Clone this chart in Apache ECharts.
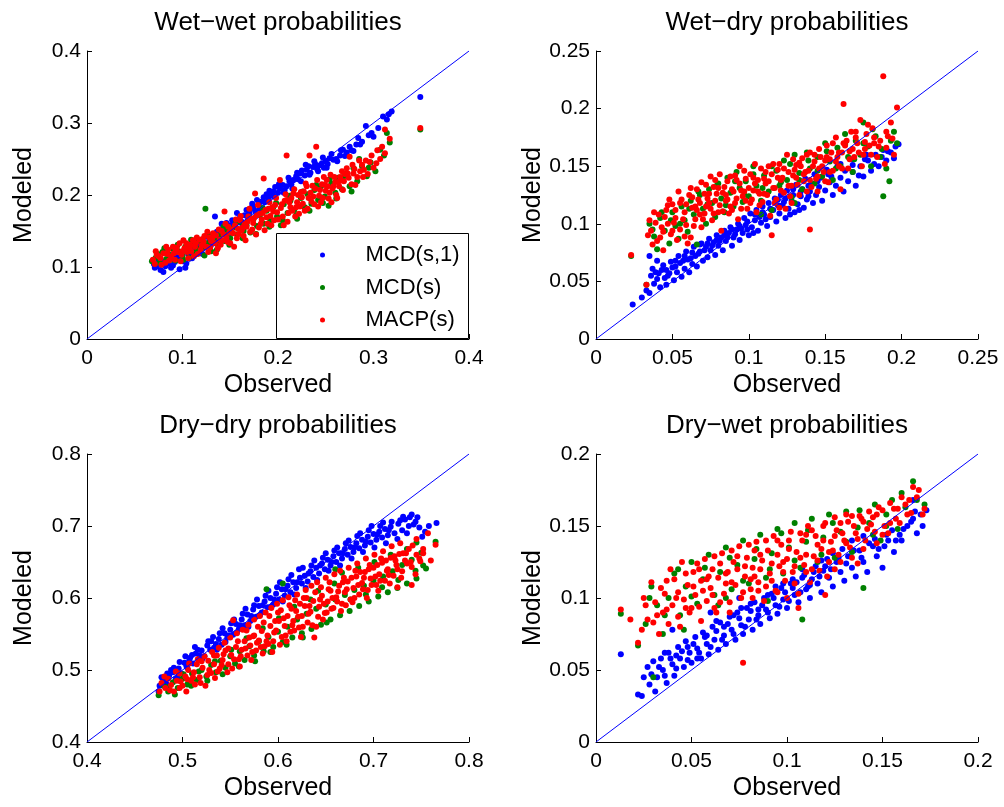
<!DOCTYPE html>
<html><head><meta charset="utf-8">
<script src="https://cdn.jsdelivr.net/npm/echarts/dist/echarts.min.js"></script>
<style>html,body{margin:0;padding:0;background:#fff}#c{width:1004px;height:807px}</style>
</head><body><div id="c"></div><script>
const seriesNames = ['MCD(s,1)', 'MCD(s)', 'MACP(s)'];
const panelTitles = ['Wet\u2212wet probabilities', 'Wet\u2212dry probabilities', 'Dry\u2212dry probabilities', 'Dry\u2212wet probabilities'];
const axisRanges = [[0, 0.4, 0.1], [0, 0.25, 0.05], [0.4, 0.8, 0.1], [0, 0.2, 0.05]];

const wwBlue = [[0.070,0.104],[0.071,0.099],[0.075,0.108],[0.077,0.096],[0.080,0.093],[0.082,0.101],[0.085,0.105],[0.087,0.110],[0.090,0.102],[0.094,0.114],[0.097,0.097],[0.100,0.108],[0.104,0.105],[0.106,0.118],[0.108,0.119],[0.110,0.112],[0.113,0.124],[0.115,0.133],[0.118,0.121],[0.120,0.130],[0.123,0.127],[0.125,0.142],[0.128,0.135],[0.130,0.131],[0.132,0.139],[0.134,0.170],[0.136,0.149],[0.138,0.143],[0.140,0.152],[0.142,0.146],[0.144,0.156],[0.146,0.161],[0.148,0.152],[0.150,0.158],[0.152,0.165],[0.155,0.160],[0.157,0.175],[0.160,0.168],[0.162,0.163],[0.165,0.172],[0.167,0.179],[0.170,0.175],[0.172,0.182],[0.174,0.184],[0.176,0.178],[0.178,0.193],[0.180,0.186],[0.183,0.191],[0.185,0.197],[0.188,0.201],[0.190,0.194],[0.192,0.199],[0.195,0.205],[0.197,0.211],[0.200,0.203],[0.202,0.209],[0.205,0.214],[0.207,0.207],[0.209,0.212],[0.212,0.219],[0.214,0.215],[0.216,0.221],[0.219,0.226],[0.221,0.222],[0.223,0.230],[0.225,0.234],[0.228,0.227],[0.230,0.235],[0.232,0.240],[0.234,0.231],[0.237,0.239],[0.239,0.243],[0.241,0.236],[0.243,0.241],[0.246,0.244],[0.248,0.238],[0.250,0.247],[0.252,0.243],[0.254,0.251],[0.258,0.249],[0.262,0.247],[0.265,0.255],[0.268,0.263],[0.272,0.259],[0.275,0.267],[0.279,0.261],[0.282,0.270],[0.284,0.279],[0.288,0.274],[0.292,0.296],[0.295,0.283],[0.298,0.286],[0.305,0.293],[0.310,0.309],[0.314,0.305],[0.316,0.312],[0.319,0.316],[0.349,0.336],
[0.073,0.101],[0.079,0.108],[0.088,0.099],[0.092,0.107],[0.099,0.111],[0.103,0.099],[0.111,0.118],[0.117,0.127],[0.121,0.118],[0.127,0.131],[0.133,0.145],[0.137,0.137],[0.141,0.160],[0.145,0.149],[0.149,0.145],[0.153,0.156],[0.158,0.164],[0.163,0.158],[0.168,0.170],[0.173,0.188],[0.177,0.171],[0.181,0.181],[0.186,0.190],[0.191,0.206],[0.196,0.198],[0.201,0.215],[0.206,0.203],[0.211,0.224],[0.215,0.209],[0.220,0.231],[0.224,0.219],[0.229,0.242],[0.233,0.228],[0.238,0.247],[0.242,0.233],[0.247,0.252],[0.251,0.238],[0.256,0.257],[0.261,0.250],[0.266,0.262],[0.270,0.254],[0.277,0.262],[0.286,0.270],[0.300,0.281]];
const wwGreen = [[0.068,0.108],[0.072,0.113],[0.076,0.106],[0.079,0.121],[0.083,0.111],[0.086,0.117],[0.090,0.125],[0.093,0.109],[0.096,0.122],[0.100,0.116],[0.103,0.128],[0.107,0.113],[0.110,0.130],[0.114,0.121],[0.117,0.136],[0.120,0.126],[0.124,0.181],[0.126,0.133],[0.130,0.122],[0.133,0.140],[0.137,0.131],[0.140,0.145],[0.144,0.136],[0.147,0.151],[0.150,0.140],[0.154,0.155],[0.157,0.145],[0.160,0.162],[0.164,0.150],[0.167,0.158],[0.171,0.148],[0.174,0.166],[0.178,0.157],[0.181,0.172],[0.185,0.160],[0.188,0.178],[0.192,0.165],[0.195,0.183],[0.199,0.170],[0.203,0.158],[0.206,0.187],[0.210,0.175],[0.213,0.192],[0.217,0.179],[0.220,0.167],[0.224,0.196],[0.228,0.183],[0.231,0.201],[0.235,0.188],[0.238,0.207],[0.242,0.193],[0.245,0.212],[0.249,0.198],[0.253,0.185],[0.256,0.216],[0.260,0.203],[0.263,0.224],[0.267,0.208],[0.271,0.230],[0.275,0.212],[0.279,0.237],[0.283,0.219],[0.288,0.240],[0.293,0.226],[0.297,0.245],[0.302,0.233],[0.307,0.263],[0.311,0.255],[0.314,0.286],[0.317,0.273],[0.349,0.291],
[0.074,0.118],[0.081,0.126],[0.088,0.110],[0.095,0.131],[0.101,0.110],[0.109,0.138],[0.116,0.125],[0.123,0.116],[0.129,0.144],[0.136,0.124],[0.143,0.156],[0.149,0.131],[0.156,0.164],[0.163,0.140],[0.170,0.169],[0.177,0.146],[0.184,0.182],[0.191,0.156],[0.198,0.189],[0.205,0.165],[0.212,0.199],[0.219,0.172],[0.226,0.205],[0.233,0.178],[0.240,0.214],[0.247,0.189],[0.254,0.222],[0.261,0.195],[0.269,0.226],[0.277,0.205],[0.285,0.250],[0.295,0.238]];
const wwRed = [[0.069,0.110],[0.071,0.104],[0.073,0.117],[0.077,0.112],[0.080,0.119],[0.082,0.106],[0.085,0.124],[0.088,0.115],[0.090,0.128],[0.092,0.110],[0.095,0.121],[0.097,0.133],[0.099,0.117],[0.102,0.126],[0.104,0.133],[0.106,0.112],[0.109,0.122],[0.111,0.137],[0.113,0.128],[0.116,0.118],[0.118,0.138],[0.120,0.130],[0.123,0.143],[0.125,0.128],[0.127,0.121],[0.130,0.136],[0.132,0.147],[0.134,0.133],[0.137,0.126],[0.139,0.138],[0.141,0.150],[0.144,0.177],[0.146,0.141],[0.148,0.156],[0.150,0.133],[0.153,0.147],[0.155,0.158],[0.157,0.140],[0.160,0.165],[0.162,0.151],[0.164,0.143],[0.167,0.156],[0.169,0.170],[0.171,0.149],[0.174,0.161],[0.176,0.202],[0.178,0.172],[0.180,0.155],[0.183,0.166],[0.185,0.223],[0.187,0.179],[0.189,0.160],[0.192,0.171],[0.194,0.183],[0.196,0.165],[0.199,0.176],[0.202,0.221],[0.204,0.187],[0.206,0.158],[0.209,0.193],[0.209,0.255],[0.211,0.175],[0.213,0.183],[0.216,0.202],[0.218,0.170],[0.220,0.190],[0.223,0.184],[0.225,0.197],[0.228,0.178],[0.230,0.212],[0.233,0.255],[0.235,0.191],[0.237,0.198],[0.240,0.267],[0.242,0.184],[0.244,0.207],[0.247,0.196],[0.249,0.214],[0.251,0.221],[0.254,0.203],[0.256,0.190],[0.258,0.212],[0.261,0.200],[0.263,0.218],[0.265,0.225],[0.268,0.207],[0.270,0.229],[0.272,0.237],[0.275,0.253],[0.277,0.215],[0.279,0.230],[0.283,0.225],[0.286,0.233],[0.289,0.225],[0.292,0.248],[0.296,0.246],[0.300,0.238],[0.304,0.262],[0.309,0.267],[0.312,0.258],[0.312,0.291],[0.317,0.278],[0.349,0.293],
[0.072,0.122],[0.078,0.103],[0.083,0.128],[0.086,0.109],[0.091,0.119],[0.094,0.127],[0.098,0.108],[0.101,0.137],[0.105,0.121],[0.108,0.131],[0.112,0.115],[0.115,0.141],[0.119,0.124],[0.122,0.135],[0.126,0.149],[0.129,0.127],[0.131,0.140],[0.135,0.119],[0.138,0.152],[0.140,0.131],[0.143,0.145],[0.145,0.160],[0.147,0.135],[0.151,0.152],[0.154,0.128],[0.156,0.166],[0.159,0.146],[0.161,0.171],[0.163,0.155],[0.166,0.137],[0.168,0.163],[0.170,0.181],[0.173,0.152],[0.175,0.168],[0.177,0.145],[0.179,0.186],[0.182,0.160],[0.184,0.175],[0.186,0.151],[0.188,0.169],[0.191,0.190],[0.193,0.158],[0.195,0.177],[0.198,0.196],[0.200,0.166],[0.203,0.182],[0.205,0.170],[0.208,0.201],[0.210,0.163],[0.212,0.190],[0.215,0.178],[0.217,0.208],[0.219,0.183],[0.222,0.174],[0.224,0.204],[0.226,0.188],[0.229,0.216],[0.231,0.181],[0.234,0.203],[0.236,0.213],[0.238,0.187],[0.241,0.221],[0.243,0.199],[0.245,0.190],[0.248,0.225],[0.250,0.206],[0.253,0.195],[0.255,0.228],[0.257,0.209],[0.260,0.218],[0.262,0.196],[0.264,0.212],[0.267,0.233],[0.269,0.219],[0.274,0.224],[0.278,0.242],[0.281,0.214],[0.285,0.248],[0.290,0.235],[0.294,0.229],[0.298,0.255],[0.303,0.244],[0.307,0.250],
[0.075,0.115],[0.084,0.118],[0.093,0.124],[0.100,0.122],[0.107,0.127],[0.114,0.133],[0.121,0.139],[0.128,0.141],[0.135,0.144],[0.142,0.137],[0.149,0.148],[0.158,0.153],[0.165,0.160],[0.172,0.167],[0.181,0.174],[0.190,0.181],[0.197,0.186],[0.207,0.192],[0.214,0.196],[0.221,0.200],[0.227,0.205],[0.232,0.196],[0.239,0.209],[0.246,0.215],[0.252,0.212],[0.259,0.225],[0.266,0.220],[0.273,0.230],[0.280,0.236],[0.288,0.242]];

const wdBlue = [[0.024,0.030],[0.030,0.036],[0.033,0.042],[0.035,0.040],[0.035,0.072],[0.036,0.055],[0.038,0.048],[0.040,0.052],[0.040,0.068],[0.042,0.045],[0.043,0.060],[0.045,0.053],[0.046,0.047],[0.048,0.057],[0.050,0.062],[0.051,0.051],[0.053,0.058],[0.055,0.066],[0.056,0.054],[0.058,0.061],[0.060,0.069],[0.061,0.058],[0.063,0.065],[0.065,0.072],[0.066,0.063],[0.068,0.076],[0.070,0.068],[0.072,0.080],[0.073,0.071],[0.075,0.077],[0.077,0.084],[0.078,0.073],[0.080,0.081],[0.082,0.088],[0.083,0.077],[0.085,0.085],[0.087,0.092],[0.089,0.081],[0.090,0.088],[0.092,0.095],[0.094,0.086],[0.096,0.092],[0.098,0.099],[0.100,0.090],[0.102,0.097],[0.104,0.103],[0.106,0.094],[0.108,0.101],[0.110,0.108],[0.112,0.098],[0.114,0.106],[0.116,0.112],[0.118,0.102],[0.120,0.109],[0.122,0.116],[0.124,0.105],[0.126,0.113],[0.128,0.120],[0.130,0.110],[0.132,0.117],[0.134,0.124],[0.136,0.114],[0.138,0.121],[0.140,0.128],[0.142,0.118],[0.144,0.125],[0.146,0.132],[0.148,0.120],[0.150,0.129],[0.153,0.136],[0.155,0.125],[0.157,0.133],[0.160,0.140],[0.162,0.128],[0.165,0.137],[0.168,0.145],[0.170,0.133],[0.173,0.150],[0.175,0.141],[0.178,0.155],[0.180,0.146],[0.183,0.160],[0.185,0.150],[0.188,0.164],[0.190,0.155],[0.193,0.162],[0.196,0.167],[0.198,0.169],
[0.037,0.061],[0.041,0.057],[0.044,0.064],[0.047,0.055],[0.049,0.067],[0.052,0.063],[0.054,0.072],[0.057,0.068],[0.059,0.076],[0.062,0.070],[0.064,0.080],[0.067,0.074],[0.069,0.083],[0.071,0.077],[0.074,0.087],[0.076,0.081],[0.079,0.090],[0.081,0.085],[0.084,0.094],[0.086,0.088],[0.088,0.097],[0.091,0.091],[0.093,0.100],[0.095,0.096],[0.097,0.105],[0.099,0.102],[0.101,0.109],[0.103,0.092],[0.105,0.112],[0.107,0.106],[0.109,0.115],[0.111,0.104],[0.113,0.118],[0.115,0.112],[0.117,0.122],[0.119,0.116],[0.121,0.125],[0.123,0.119],[0.125,0.129],[0.127,0.108],[0.129,0.125],[0.131,0.134],[0.133,0.112],[0.135,0.130],[0.137,0.139],[0.139,0.124],[0.141,0.135],[0.143,0.143],[0.147,0.140],[0.151,0.147],[0.154,0.141],[0.158,0.150],[0.163,0.146],[0.167,0.156],[0.172,0.142],[0.177,0.160],[0.182,0.152],[0.187,0.158],[0.191,0.163],[0.195,0.157],
[0.039,0.058],[0.046,0.060],[0.052,0.068],[0.058,0.072],[0.063,0.075],[0.068,0.082],[0.073,0.083],[0.079,0.086],[0.084,0.090],[0.089,0.095],[0.094,0.098],[0.099,0.095],[0.104,0.108],[0.109,0.110],[0.114,0.113],[0.119,0.121],[0.124,0.122],[0.129,0.130],[0.134,0.128],[0.139,0.133],[0.145,0.137],[0.152,0.143],[0.160,0.152],[0.168,0.151],[0.176,0.156]];
const wdGreen = [[0.023,0.072],[0.033,0.047],[0.035,0.100],[0.038,0.089],[0.040,0.078],[0.042,0.105],[0.045,0.094],[0.048,0.083],[0.050,0.110],[0.052,0.098],[0.054,0.087],[0.056,0.115],[0.058,0.103],[0.060,0.093],[0.062,0.120],[0.064,0.108],[0.066,0.082],[0.068,0.125],[0.070,0.113],[0.072,0.100],[0.074,0.130],[0.076,0.118],[0.078,0.106],[0.080,0.135],[0.082,0.122],[0.084,0.110],[0.086,0.140],[0.088,0.127],[0.090,0.115],[0.092,0.145],[0.094,0.131],[0.096,0.119],[0.098,0.137],[0.100,0.124],[0.103,0.150],[0.105,0.133],[0.108,0.120],[0.110,0.142],[0.113,0.128],[0.115,0.112],[0.118,0.146],[0.120,0.133],[0.123,0.155],[0.125,0.138],[0.128,0.123],[0.130,0.160],[0.133,0.144],[0.135,0.130],[0.138,0.162],[0.140,0.148],[0.143,0.135],[0.145,0.158],[0.148,0.141],[0.150,0.170],[0.153,0.154],[0.155,0.138],[0.158,0.166],[0.160,0.150],[0.163,0.178],[0.165,0.158],[0.168,0.145],[0.170,0.172],[0.173,0.160],[0.175,0.188],[0.178,0.167],[0.180,0.150],[0.183,0.176],[0.186,0.158],[0.188,0.124],[0.190,0.148],[0.192,0.137],[0.195,0.180],[0.197,0.170],
[0.037,0.095],[0.043,0.110],[0.049,0.103],[0.055,0.100],[0.061,0.113],[0.067,0.128],[0.073,0.117],[0.079,0.133],[0.085,0.116],[0.091,0.137],[0.097,0.125],[0.103,0.143],[0.109,0.131],[0.115,0.150],[0.121,0.136],[0.127,0.152],[0.133,0.138],[0.139,0.155],[0.145,0.146],[0.151,0.163],[0.157,0.148],[0.163,0.169],[0.169,0.156],[0.175,0.170],[0.181,0.182],[0.187,0.165],[0.193,0.172],[0.108,0.108],[0.130,0.118]];
const wdRed = [[0.023,0.073],[0.033,0.047],[0.034,0.090],[0.035,0.103],[0.037,0.082],[0.040,0.085],[0.041,0.108],[0.043,0.097],[0.044,0.077],[0.046,0.112],[0.047,0.100],[0.049,0.091],[0.050,0.117],[0.052,0.105],[0.053,0.086],[0.055,0.095],[0.056,0.121],[0.058,0.110],[0.059,0.099],[0.061,0.125],[0.062,0.088],[0.063,0.114],[0.065,0.104],[0.066,0.130],[0.068,0.118],[0.069,0.097],[0.071,0.109],[0.072,0.134],[0.073,0.122],[0.075,0.113],[0.076,0.103],[0.078,0.138],[0.079,0.126],[0.081,0.116],[0.082,0.094],[0.084,0.132],[0.085,0.120],[0.087,0.109],[0.088,0.141],[0.090,0.128],[0.091,0.118],[0.093,0.104],[0.094,0.135],[0.096,0.124],[0.097,0.146],[0.099,0.113],[0.100,0.131],[0.102,0.121],[0.103,0.140],[0.105,0.110],[0.106,0.128],[0.108,0.148],[0.109,0.119],[0.111,0.135],[0.112,0.125],[0.114,0.107],[0.115,0.090],[0.115,0.143],[0.117,0.131],[0.118,0.121],[0.120,0.152],[0.121,0.138],[0.123,0.127],[0.124,0.113],[0.126,0.145],[0.128,0.133],[0.129,0.156],[0.131,0.140],[0.133,0.125],[0.134,0.150],[0.136,0.137],[0.138,0.160],[0.139,0.146],[0.140,0.095],[0.141,0.132],[0.143,0.154],[0.145,0.141],[0.146,0.165],[0.148,0.150],[0.150,0.137],[0.151,0.158],[0.153,0.145],[0.155,0.170],[0.157,0.154],[0.159,0.162],[0.160,0.130],[0.161,0.148],[0.162,0.204],[0.164,0.172],[0.166,0.156],[0.168,0.165],[0.170,0.180],[0.172,0.162],[0.174,0.150],[0.176,0.171],[0.178,0.186],[0.180,0.160],[0.182,0.175],[0.185,0.167],[0.188,0.228],[0.189,0.152],[0.190,0.166],[0.191,0.176],[0.193,0.188],[0.195,0.160],[0.197,0.201],
[0.036,0.094],[0.039,0.101],[0.042,0.088],[0.045,0.106],[0.047,0.116],[0.050,0.094],[0.052,0.112],[0.054,0.128],[0.057,0.104],[0.059,0.117],[0.060,0.083],[0.062,0.131],[0.064,0.098],[0.066,0.112],[0.067,0.121],[0.069,0.136],[0.070,0.104],[0.072,0.115],[0.074,0.126],[0.075,0.141],[0.077,0.109],[0.078,0.120],[0.080,0.131],[0.081,0.143],[0.083,0.111],[0.085,0.125],[0.086,0.137],[0.088,0.115],[0.089,0.130],[0.091,0.142],[0.092,0.122],[0.094,0.150],[0.095,0.113],[0.097,0.128],[0.098,0.139],[0.101,0.118],[0.103,0.129],[0.104,0.152],[0.106,0.138],[0.107,0.116],[0.110,0.126],[0.111,0.145],[0.113,0.137],[0.116,0.152],[0.117,0.118],[0.119,0.140],[0.121,0.129],[0.123,0.148],[0.125,0.160],[0.127,0.124],[0.129,0.142],[0.131,0.151],[0.132,0.134],[0.135,0.157],[0.137,0.145],[0.138,0.128],[0.140,0.162],[0.142,0.150],[0.144,0.139],[0.147,0.158],[0.149,0.145],[0.151,0.168],[0.153,0.156],[0.155,0.146],[0.157,0.175],[0.159,0.150],[0.161,0.162],[0.163,0.168],[0.165,0.148],[0.167,0.180],[0.169,0.158],[0.171,0.170],[0.173,0.190],[0.175,0.160],[0.177,0.178],[0.179,0.168],[0.181,0.183],[0.184,0.158],[0.186,0.172],[0.190,0.180],[0.194,0.174],[0.120,0.114],[0.128,0.118],[0.145,0.128],[0.152,0.136],
[0.038,0.110],[0.044,0.093],[0.048,0.121],[0.051,0.101],[0.055,0.118],[0.058,0.089],[0.063,0.123],[0.065,0.115],[0.068,0.108],[0.071,0.126],[0.074,0.118],[0.077,0.132],[0.080,0.110],[0.083,0.127],[0.086,0.121],[0.089,0.112],[0.092,0.138],[0.095,0.129],[0.098,0.120],[0.101,0.143],[0.104,0.135],[0.107,0.126],[0.110,0.139],[0.113,0.150],[0.116,0.131],[0.119,0.147],[0.122,0.140],[0.126,0.133],[0.130,0.147],[0.133,0.153],[0.136,0.143],[0.140,0.138],[0.143,0.160],[0.146,0.148],[0.150,0.155],[0.154,0.162],[0.158,0.158],[0.162,0.170],[0.166,0.163],[0.170,0.175],[0.176,0.165],[0.182,0.170]];

const ddBlue = [[0.475,0.470],[0.476,0.478],[0.480,0.486],[0.483,0.481],[0.486,0.492],[0.490,0.497],[0.493,0.488],[0.496,0.502],[0.499,0.495],[0.502,0.510],[0.503,0.519],[0.505,0.503],[0.508,0.517],[0.511,0.509],[0.514,0.523],[0.517,0.514],[0.520,0.527],[0.523,0.519],[0.526,0.534],[0.529,0.528],[0.532,0.546],[0.535,0.536],[0.538,0.543],[0.541,0.535],[0.544,0.551],[0.547,0.545],[0.550,0.556],[0.553,0.549],[0.556,0.564],[0.559,0.557],[0.562,0.570],[0.565,0.562],[0.568,0.577],[0.571,0.568],[0.574,0.584],[0.577,0.574],[0.580,0.589],[0.583,0.580],[0.586,0.595],[0.589,0.587],[0.592,0.600],[0.595,0.591],[0.598,0.606],[0.601,0.598],[0.604,0.612],[0.607,0.603],[0.610,0.617],[0.613,0.608],[0.616,0.622],[0.619,0.614],[0.622,0.640],[0.625,0.620],[0.628,0.631],[0.631,0.623],[0.634,0.637],[0.637,0.629],[0.640,0.642],[0.643,0.634],[0.646,0.648],[0.649,0.640],[0.652,0.653],[0.655,0.645],[0.658,0.658],[0.661,0.650],[0.664,0.662],[0.667,0.655],[0.670,0.668],[0.673,0.660],[0.676,0.671],[0.679,0.664],[0.682,0.676],[0.685,0.669],[0.688,0.681],[0.691,0.673],[0.694,0.685],[0.697,0.677],[0.700,0.689],[0.703,0.681],[0.706,0.692],[0.709,0.684],[0.712,0.696],[0.715,0.687],[0.718,0.699],[0.722,0.690],[0.726,0.703],[0.730,0.694],[0.733,0.709],[0.737,0.700],[0.738,0.712],[0.740,0.716],[0.744,0.706],[0.748,0.698],[0.751,0.685],[0.766,0.704],
[0.478,0.490],[0.484,0.495],[0.491,0.503],[0.497,0.511],[0.504,0.506],[0.510,0.521],[0.516,0.528],[0.521,0.516],[0.527,0.540],[0.533,0.531],[0.539,0.551],[0.545,0.539],[0.551,0.565],[0.557,0.552],[0.563,0.578],[0.569,0.560],[0.575,0.590],[0.581,0.576],[0.587,0.603],[0.593,0.588],[0.599,0.615],[0.605,0.595],[0.611,0.626],[0.617,0.605],[0.623,0.628],[0.629,0.614],[0.635,0.645],[0.641,0.625],[0.647,0.656],[0.653,0.638],[0.659,0.666],[0.665,0.645],[0.671,0.676],[0.677,0.655],[0.683,0.686],[0.689,0.664],[0.695,0.694],[0.701,0.670],[0.707,0.700],[0.713,0.676],[0.719,0.706],[0.725,0.682],[0.731,0.713],[0.742,0.702],[0.754,0.692],[0.758,0.700],
[0.488,0.500],[0.495,0.490],[0.507,0.513],[0.513,0.532],[0.518,0.520],[0.530,0.540],[0.536,0.528],[0.542,0.558],[0.548,0.548],[0.554,0.570],[0.560,0.562],[0.566,0.585],[0.572,0.575],[0.578,0.598],[0.584,0.590],[0.590,0.610],[0.596,0.598],[0.602,0.622],[0.608,0.612],[0.614,0.632],[0.620,0.622],[0.626,0.642],[0.632,0.634],[0.638,0.652],[0.644,0.645],[0.650,0.662],[0.656,0.650],[0.662,0.670],[0.668,0.662],[0.674,0.680],[0.680,0.670],[0.686,0.690],[0.692,0.678],[0.698,0.700],[0.704,0.688],[0.710,0.705],[0.716,0.694],[0.728,0.708],[0.735,0.690],[0.746,0.712]];
const ddGreen = [[0.475,0.465],[0.480,0.478],[0.485,0.470],[0.490,0.483],[0.495,0.475],[0.500,0.488],[0.505,0.480],[0.510,0.495],[0.515,0.486],[0.520,0.500],[0.525,0.491],[0.530,0.507],[0.535,0.497],[0.540,0.513],[0.545,0.503],[0.550,0.519],[0.555,0.509],[0.560,0.526],[0.565,0.514],[0.570,0.533],[0.575,0.520],[0.580,0.540],[0.585,0.526],[0.588,0.612],[0.590,0.546],[0.595,0.532],[0.600,0.553],[0.605,0.539],[0.605,0.620],[0.610,0.560],[0.615,0.545],[0.620,0.570],[0.625,0.551],[0.630,0.578],[0.635,0.557],[0.640,0.585],[0.645,0.563],[0.650,0.591],[0.655,0.570],[0.660,0.598],[0.660,0.640],[0.665,0.576],[0.670,0.604],[0.675,0.582],[0.680,0.611],[0.685,0.589],[0.690,0.617],[0.695,0.595],[0.700,0.624],[0.705,0.602],[0.710,0.630],[0.715,0.608],[0.720,0.637],[0.725,0.614],[0.730,0.646],[0.735,0.620],[0.740,0.653],[0.745,0.627],[0.750,0.663],[0.755,0.641],[0.765,0.678],
[0.484,0.476],[0.492,0.466],[0.501,0.494],[0.509,0.478],[0.517,0.498],[0.526,0.485],[0.534,0.512],[0.542,0.494],[0.551,0.528],[0.559,0.505],[0.567,0.544],[0.576,0.512],[0.584,0.558],[0.592,0.525],[0.601,0.572],[0.609,0.535],[0.617,0.588],[0.626,0.545],[0.634,0.598],[0.642,0.610],[0.651,0.566],[0.659,0.620],[0.667,0.635],[0.676,0.598],[0.684,0.642],[0.692,0.605],[0.701,0.650],[0.709,0.615],[0.718,0.660],[0.726,0.625],[0.735,0.668],[0.744,0.638],[0.752,0.645],[0.745,0.677]];
const ddRed = [[0.476,0.470],[0.478,0.482],[0.482,0.475],[0.485,0.488],[0.488,0.479],[0.491,0.470],[0.494,0.485],[0.497,0.495],[0.500,0.478],[0.503,0.491],[0.506,0.500],[0.509,0.485],[0.512,0.497],[0.515,0.508],[0.518,0.490],[0.521,0.503],[0.524,0.478],[0.527,0.513],[0.530,0.496],[0.533,0.508],[0.536,0.520],[0.539,0.502],[0.542,0.514],[0.545,0.527],[0.548,0.508],[0.551,0.521],[0.553,0.569],[0.556,0.532],[0.559,0.515],[0.562,0.528],[0.565,0.540],[0.568,0.520],[0.571,0.534],[0.574,0.547],[0.575,0.548],[0.577,0.527],[0.580,0.541],[0.583,0.554],[0.586,0.533],[0.589,0.548],[0.592,0.561],[0.595,0.540],[0.598,0.555],[0.600,0.580],[0.601,0.568],[0.604,0.546],[0.607,0.561],[0.610,0.575],[0.613,0.553],[0.616,0.568],[0.619,0.582],[0.622,0.559],[0.625,0.575],[0.628,0.589],[0.630,0.600],[0.631,0.566],[0.634,0.581],[0.637,0.596],[0.640,0.560],[0.643,0.588],[0.646,0.603],[0.649,0.579],[0.652,0.595],[0.655,0.610],[0.658,0.586],[0.661,0.601],[0.664,0.617],[0.667,0.592],[0.670,0.608],[0.673,0.623],[0.676,0.598],[0.679,0.614],[0.682,0.630],[0.685,0.605],[0.688,0.621],[0.691,0.636],[0.694,0.611],[0.697,0.627],[0.700,0.642],[0.703,0.618],[0.706,0.633],[0.709,0.649],[0.712,0.624],[0.715,0.640],[0.718,0.656],[0.721,0.631],[0.724,0.646],[0.727,0.661],[0.730,0.637],[0.733,0.652],[0.737,0.668],[0.740,0.643],[0.745,0.682],[0.748,0.655],[0.752,0.668],[0.765,0.674],
[0.481,0.491],[0.487,0.472],[0.493,0.498],[0.498,0.484],[0.504,0.470],[0.507,0.509],[0.511,0.490],[0.516,0.515],[0.519,0.482],[0.523,0.519],[0.528,0.500],[0.531,0.525],[0.534,0.489],[0.538,0.531],[0.541,0.507],[0.544,0.538],[0.547,0.497],[0.550,0.545],[0.554,0.515],[0.557,0.551],[0.560,0.505],[0.563,0.556],[0.566,0.530],[0.569,0.563],[0.572,0.514],[0.575,0.570],[0.578,0.538],[0.581,0.575],[0.584,0.523],[0.587,0.580],[0.590,0.536],[0.593,0.586],[0.596,0.552],[0.599,0.592],[0.602,0.535],[0.605,0.597],[0.608,0.548],[0.611,0.601],[0.614,0.585],[0.617,0.555],[0.620,0.605],[0.623,0.592],[0.626,0.560],[0.629,0.611],[0.632,0.578],[0.635,0.617],[0.638,0.545],[0.641,0.622],[0.644,0.598],[0.647,0.570],[0.650,0.628],[0.653,0.612],[0.656,0.585],[0.659,0.633],[0.662,0.595],[0.665,0.638],[0.668,0.622],[0.671,0.590],[0.674,0.642],[0.677,0.628],[0.680,0.600],[0.683,0.648],[0.686,0.636],[0.689,0.612],[0.692,0.655],[0.695,0.640],[0.698,0.618],[0.701,0.660],[0.704,0.646],[0.707,0.624],[0.710,0.665],[0.713,0.652],[0.716,0.632],[0.719,0.672],[0.722,0.658],[0.725,0.640],[0.728,0.676],[0.731,0.662],[0.735,0.648],[0.741,0.673],[0.745,0.660],[0.749,0.651],[0.725,0.615],[0.740,0.618],
[0.497,0.475],[0.505,0.487],[0.513,0.480],[0.520,0.512],[0.526,0.493],[0.533,0.520],[0.537,0.498],[0.543,0.522],[0.548,0.530],[0.552,0.502],[0.558,0.540],[0.561,0.519],[0.567,0.555],[0.570,0.545],[0.573,0.525],[0.579,0.560],[0.582,0.532],[0.585,0.566],[0.588,0.540],[0.591,0.575],[0.594,0.525],[0.597,0.568],[0.603,0.583],[0.606,0.572],[0.609,0.540],[0.612,0.590],[0.615,0.562],[0.618,0.597],[0.621,0.574],[0.624,0.546],[0.627,0.600],[0.633,0.589],[0.636,0.562],[0.639,0.608],[0.642,0.574],[0.645,0.615],[0.648,0.592],[0.651,0.580],[0.654,0.622],[0.657,0.600],[0.663,0.609],[0.666,0.582],[0.669,0.628],[0.672,0.612],[0.678,0.594],[0.681,0.638],[0.684,0.618],[0.690,0.628],[0.693,0.600],[0.696,0.646],[0.702,0.630],[0.705,0.610],[0.708,0.655],[0.714,0.638],[0.717,0.620],[0.723,0.652],[0.729,0.628],[0.734,0.662],[0.739,0.650],[0.744,0.633],[0.752,0.662],[0.757,0.690],[0.760,0.652]];

const dwBlue = [[0.013,0.061],[0.022,0.033],[0.024,0.032],[0.027,0.052],[0.029,0.047],[0.031,0.035],[0.032,0.045],[0.034,0.058],[0.035,0.050],[0.037,0.041],[0.038,0.062],[0.040,0.054],[0.040,0.078],[0.041,0.046],[0.043,0.066],[0.044,0.058],[0.046,0.052],[0.047,0.070],[0.049,0.062],[0.050,0.055],[0.052,0.073],[0.053,0.065],[0.055,0.058],[0.056,0.076],[0.058,0.068],[0.059,0.061],[0.060,0.090],[0.061,0.080],[0.062,0.071],[0.064,0.064],[0.065,0.083],[0.067,0.074],[0.068,0.068],[0.070,0.087],[0.071,0.078],[0.073,0.071],[0.074,0.090],[0.075,0.100],[0.076,0.081],[0.077,0.075],[0.079,0.093],[0.080,0.085],[0.082,0.078],[0.083,0.097],[0.085,0.088],[0.086,0.082],[0.088,0.100],[0.089,0.092],[0.091,0.086],[0.092,0.103],[0.094,0.095],[0.095,0.089],[0.097,0.107],[0.098,0.099],[0.100,0.093],[0.102,0.110],[0.104,0.102],[0.106,0.097],[0.108,0.114],[0.110,0.106],[0.112,0.100],[0.114,0.118],[0.116,0.110],[0.118,0.104],[0.120,0.122],[0.122,0.114],[0.124,0.108],[0.126,0.125],[0.128,0.118],[0.130,0.112],[0.132,0.129],[0.134,0.121],[0.136,0.115],[0.138,0.133],[0.140,0.125],[0.142,0.118],[0.145,0.136],[0.147,0.129],[0.150,0.121],[0.153,0.140],[0.156,0.132],[0.159,0.144],[0.163,0.150],[0.166,0.155],[0.166,0.168],[0.168,0.145],[0.170,0.158],[0.173,0.161],
[0.025,0.045],[0.028,0.040],[0.033,0.052],[0.036,0.046],[0.039,0.058],[0.042,0.051],[0.045,0.063],[0.048,0.057],[0.051,0.068],[0.054,0.062],[0.057,0.073],[0.060,0.066],[0.063,0.077],[0.066,0.071],[0.069,0.082],[0.072,0.075],[0.075,0.086],[0.078,0.080],[0.081,0.091],[0.084,0.085],[0.087,0.095],[0.090,0.090],[0.093,0.100],[0.096,0.094],[0.099,0.104],[0.101,0.098],[0.103,0.107],[0.105,0.111],[0.107,0.104],[0.109,0.116],[0.111,0.108],[0.113,0.113],[0.115,0.122],[0.117,0.115],[0.119,0.119],[0.121,0.127],[0.123,0.120],[0.127,0.128],[0.131,0.124],[0.135,0.133],[0.139,0.128],[0.143,0.138],[0.148,0.134],[0.152,0.144],[0.157,0.140],[0.161,0.148],[0.165,0.153],[0.171,0.150],
[0.030,0.056],[0.036,0.062],[0.042,0.060],[0.048,0.066],[0.053,0.058],[0.058,0.074],[0.063,0.084],[0.067,0.080],[0.072,0.088],[0.076,0.093],[0.081,0.096],[0.085,0.092],[0.090,0.102],[0.094,0.108],[0.098,0.110],[0.103,0.113],[0.108,0.120],[0.112,0.109],[0.118,0.126],[0.124,0.131],[0.129,0.134],[0.134,0.140],[0.140,0.143],[0.146,0.141],[0.151,0.136],[0.155,0.147],[0.160,0.140],[0.167,0.160]];
const dwGreen = [[0.013,0.089],[0.022,0.067],[0.026,0.082],[0.029,0.108],[0.030,0.045],[0.032,0.095],[0.035,0.075],[0.038,0.100],[0.041,0.117],[0.044,0.088],[0.047,0.108],[0.050,0.125],[0.053,0.096],[0.056,0.113],[0.059,0.130],[0.062,0.102],[0.065,0.118],[0.068,0.135],[0.071,0.106],[0.074,0.123],[0.077,0.140],[0.080,0.110],[0.083,0.127],[0.086,0.144],[0.089,0.114],[0.092,0.131],[0.095,0.148],[0.098,0.117],[0.101,0.135],[0.104,0.152],[0.107,0.121],[0.108,0.085],[0.110,0.139],[0.113,0.155],[0.116,0.125],[0.119,0.142],[0.122,0.158],[0.125,0.128],[0.128,0.146],[0.131,0.160],[0.134,0.132],[0.137,0.149],[0.140,0.107],[0.143,0.152],[0.146,0.165],[0.149,0.140],[0.152,0.158],[0.155,0.168],[0.158,0.148],[0.162,0.163],[0.166,0.181],[0.172,0.165],
[0.028,0.100],[0.036,0.088],[0.043,0.120],[0.050,0.101],[0.057,0.121],[0.064,0.095],[0.070,0.128],[0.077,0.112],[0.084,0.134],[0.091,0.120],[0.097,0.145],[0.104,0.126],[0.111,0.147],[0.118,0.130],[0.124,0.152],[0.131,0.139],[0.138,0.161],[0.145,0.144],[0.152,0.150],[0.160,0.173],[0.168,0.168],[0.046,0.078],[0.068,0.100],[0.090,0.098]];
const dwRed = [[0.013,0.092],[0.022,0.069],[0.024,0.078],[0.027,0.085],[0.029,0.111],[0.031,0.097],[0.033,0.075],[0.035,0.090],[0.036,0.103],[0.038,0.082],[0.040,0.095],[0.041,0.113],[0.043,0.087],[0.045,0.125],[0.046,0.099],[0.048,0.109],[0.049,0.090],[0.051,0.118],[0.052,0.102],[0.054,0.094],[0.055,0.112],[0.057,0.127],[0.058,0.098],[0.060,0.107],[0.061,0.120],[0.063,0.090],[0.064,0.114],[0.066,0.131],[0.067,0.103],[0.069,0.118],[0.070,0.097],[0.072,0.125],[0.073,0.109],[0.075,0.136],[0.076,0.100],[0.077,0.055],[0.078,0.115],[0.079,0.128],[0.081,0.106],[0.082,0.121],[0.084,0.139],[0.085,0.111],[0.087,0.126],[0.088,0.098],[0.090,0.133],[0.091,0.117],[0.093,0.143],[0.094,0.105],[0.096,0.122],[0.097,0.137],[0.099,0.112],[0.100,0.127],[0.102,0.146],[0.103,0.118],[0.105,0.132],[0.106,0.093],[0.106,0.103],[0.108,0.140],[0.109,0.123],[0.111,0.150],[0.112,0.111],[0.114,0.129],[0.115,0.143],[0.117,0.119],[0.118,0.134],[0.120,0.102],[0.120,0.152],[0.122,0.125],[0.123,0.139],[0.125,0.156],[0.127,0.130],[0.129,0.145],[0.131,0.158],[0.133,0.135],[0.135,0.150],[0.137,0.124],[0.139,0.155],[0.141,0.140],[0.143,0.160],[0.146,0.146],[0.148,0.163],[0.151,0.150],[0.154,0.166],[0.157,0.155],[0.160,0.170],[0.163,0.158],[0.166,0.177],[0.169,0.175],[0.172,0.162],
[0.026,0.095],[0.030,0.083],[0.034,0.107],[0.037,0.092],[0.039,0.120],[0.042,0.100],[0.044,0.080],[0.047,0.117],[0.050,0.093],[0.053,0.124],[0.056,0.105],[0.059,0.115],[0.062,0.129],[0.065,0.097],[0.068,0.110],[0.071,0.133],[0.074,0.120],[0.077,0.104],[0.080,0.137],[0.083,0.115],[0.086,0.130],[0.089,0.108],[0.092,0.124],[0.095,0.140],[0.098,0.118],[0.101,0.134],[0.104,0.110],[0.107,0.128],[0.110,0.144],[0.113,0.120],[0.116,0.137],[0.119,0.150],[0.121,0.115],[0.124,0.133],[0.126,0.147],[0.128,0.125],[0.130,0.140],[0.132,0.153],[0.134,0.128],[0.136,0.145],[0.138,0.157],[0.140,0.134],[0.142,0.148],[0.145,0.156],[0.147,0.138],[0.150,0.161],[0.153,0.145],[0.156,0.162],[0.159,0.152],[0.162,0.165],[0.165,0.159],[0.168,0.170],[0.171,0.158],[0.055,0.084],[0.062,0.093],[0.070,0.090],[0.082,0.100],[0.095,0.104],[0.100,0.100],
[0.018,0.085],[0.025,0.100],[0.032,0.088],[0.037,0.112],[0.043,0.104],[0.047,0.093],[0.051,0.108],[0.054,0.120],[0.058,0.113],[0.061,0.102],[0.065,0.124],[0.068,0.117],[0.071,0.111],[0.074,0.129],[0.078,0.122],[0.081,0.113],[0.083,0.133],[0.086,0.120],[0.089,0.140],[0.092,0.112],[0.095,0.130],[0.098,0.125],[0.101,0.140],[0.104,0.122],[0.107,0.145],[0.110,0.130],[0.113,0.147],[0.116,0.126],[0.119,0.140],[0.122,0.132],[0.125,0.143],[0.128,0.152],[0.131,0.138],[0.134,0.157],[0.137,0.141],[0.140,0.153],[0.144,0.151],[0.147,0.158],[0.150,0.144],[0.154,0.152],[0.158,0.162],[0.164,0.168],[0.085,0.105],[0.110,0.118],[0.125,0.120]];

const panelData = [[wwBlue, wwGreen, wwRed], [wdBlue, wdGreen, wdRed], [ddBlue, ddGreen, ddRed], [dwBlue, dwGreen, dwRed]];
const colors = ['#0000ff', '#008000', '#ff0000'];
const FONT = '"Liberation Sans", Arial, Helvetica, sans-serif';
const gridPos = [[87, 51], [596, 51], [87, 454], [596, 454]];
const GW = 382, GH = 288;

const fmt = v => String(parseFloat(v.toFixed(3)));
const grid = [], xAxis = [], yAxis = [], series = [], title = [];
gridPos.forEach((p, i) => {
  const [mn, mx, step] = axisRanges[i];
  grid.push({left: p[0], top: p[1], width: GW, height: GH, containLabel: false});
  title.push({text: panelTitles[i], left: p[0] + GW / 2, top: p[1] - 41, textAlign: 'center', padding: 0,
    textStyle: {fontFamily: FONT, fontSize: 26, fontWeight: 'normal', color: '#000'}});
  const common = {
    gridIndex: i, type: 'value', min: mn, max: mx, interval: step,
    axisLine: {show: true, onZero: false, lineStyle: {color: '#000', width: 1}},
    axisTick: {show: true, inside: true, length: 5, lineStyle: {color: '#000', width: 1}},
    splitLine: {show: false},
    nameLocation: 'middle',
    nameTextStyle: {fontFamily: FONT, fontSize: 25, color: '#000'}
  };
  xAxis.push(Object.assign({}, common, {name: 'Observed', nameGap: 34,
    axisLabel: {color: '#000', fontFamily: FONT, fontSize: 21, margin: 9, formatter: fmt}}));
  yAxis.push(Object.assign({}, common, {name: 'Modeled', nameGap: 50,
    axisLabel: {color: '#000', fontFamily: FONT, fontSize: 21, margin: 6, formatter: fmt}}));
  panelData[i].forEach((d, k) => {
    series.push({type: 'scatter', name: seriesNames[k], xAxisIndex: i, yAxisIndex: i, data: d,
      symbol: 'circle', symbolSize: 6, itemStyle: {color: colors[k], opacity: 1}, z: 2 + k * 0.1,
      silent: true, animation: false});
  });
  series.push({type: 'line', xAxisIndex: i, yAxisIndex: i, data: [[mn, mn], [mx, mx]], symbol: 'none',
    lineStyle: {color: '#0000ff', width: 1}, z: 3, silent: true, animation: false});
});

const chart = echarts.init(document.getElementById('c'), null, {renderer: 'canvas'});
chart.setOption({
  backgroundColor: '#fff',
  animation: false,
  title, grid, xAxis, yAxis, series,
  legend: {
    data: seriesNames, orient: 'vertical', left: 320, top: 244, padding: 0,
    itemWidth: 76, itemHeight: 5, itemGap: 10.5, icon: 'circle', selectedMode: false, z: 20,
    textStyle: {fontFamily: FONT, fontSize: 22, color: '#000', lineHeight: 21}
  },
  graphic: [{type: 'rect', z: 10, shape: {x: 276.5, y: 233.5, width: 192, height: 105},
    style: {fill: '#fff', stroke: '#000', lineWidth: 1}}]
});
</script></body></html>
